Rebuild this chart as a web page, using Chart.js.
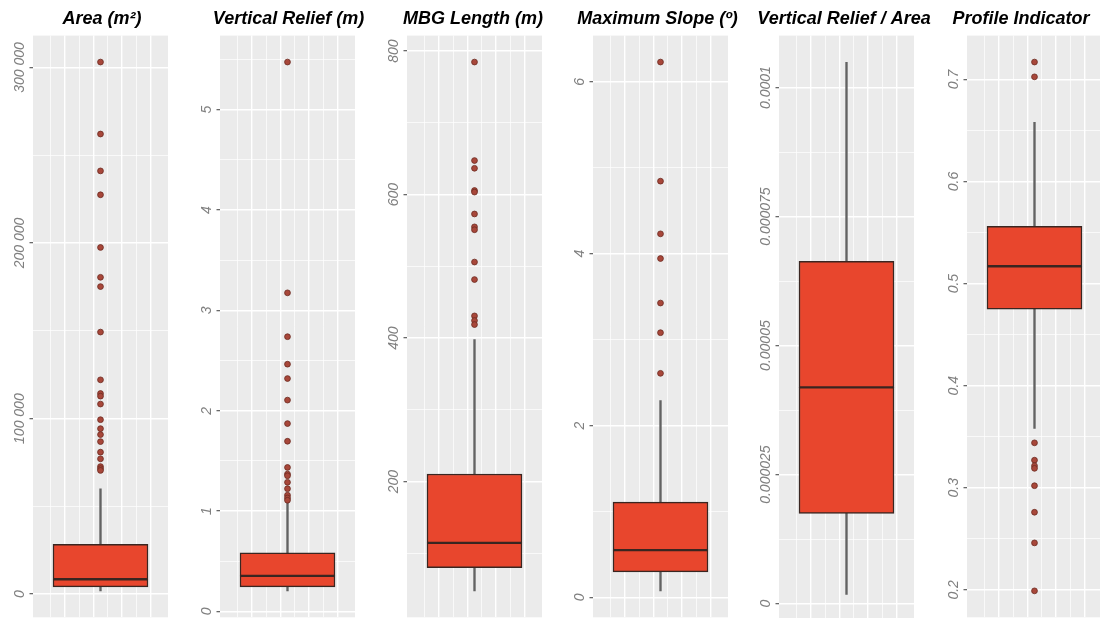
<!DOCTYPE html>
<html>
<head>
<meta charset="utf-8">
<script src="https://cdn.jsdelivr.net/npm/chart.js@4.4.1/dist/chart.umd.min.js"></script>
<style>
  html, body { margin: 0; padding: 0; width: 1100px; height: 618px; overflow: hidden; background: #fff; }
  .panel { position: absolute; top: 0; height: 621px; }
</style>
</head>
<body>
<div id="wrap"></div>
<script>
// panel titles
const titles = ['Area (m²)', 'Vertical Relief (m)', 'MBG Length (m)', 'Maximum Slope (º)', 'Vertical Relief / Area', 'Profile Indicator'];

// box stats: [lower whisker, Q1, median, Q3, upper whisker]
const areaBox = [1900, 4200, 8500, 28400, 60000];
const areaOutliers = [303100, 262100, 241100, 227500, 197500, 180500, 175200, 149300, 122100, 114300, 112800, 108300, 99400, 94300, 90900, 86900, 80900, 77100, 72700, 71500, 70500];
const areaTicks = [0, 100000, 200000, 300000];
const areaTickLabels = ['0', '100 000', '200 000', '300 000'];

const reliefBox = [0.205, 0.245, 0.354, 0.585, 1.08];
const reliefOutliers = [5.475, 3.175, 2.738, 2.464, 2.321, 2.106, 1.872, 1.696, 1.435, 1.369, 1.352, 1.287, 1.223, 1.158, 1.131, 1.108];
const reliefTicks = [0, 1, 2, 3, 4, 5];
const reliefTickLabels = ['0', '1', '2', '3', '4', '5'];

const mbgBox = [47.6, 79.9, 114.5, 210.5, 398];
const mbgOutliers = [784.8, 647.5, 636.7, 605.7, 603.5, 573, 555, 551, 506, 481.6, 430.9, 424.4, 418.8];
const mbgTicks = [200, 400, 600, 800];
const mbgTickLabels = ['200', '400', '600', '800'];

const slopeBox = [0.077, 0.297, 0.551, 1.11, 2.29];
const slopeOutliers = [6.23, 4.844, 4.231, 3.944, 3.426, 3.081, 2.608];
const slopeTicks = [0, 2, 4, 6];
const slopeTickLabels = ['0', '2', '4', '6'];

const ratioBox = [0.0000018, 0.0000175, 0.0000419, 0.0000663, 0.0001049];
const ratioOutliers = [];
const ratioTicks = [0, 0.000025, 0.00005, 0.000075, 0.0001];
const ratioTickLabels = ['0', '0.000025', '0.00005', '0.000075', '0.0001'];

const profileBox = [0.358, 0.475, 0.517, 0.556, 0.658];
const profileOutliers = [0.717, 0.7025, 0.344, 0.327, 0.3215, 0.319, 0.302, 0.276, 0.246, 0.199];
const profileTicks = [0.2, 0.3, 0.4, 0.5, 0.6, 0.7];
const profileTickLabels = ['0.2', '0.3', '0.4', '0.5', '0.6', '0.7'];

const panels = [
    { box: areaBox, outliers: areaOutliers, ticks: areaTicks, labels: areaTickLabels },
    { box: reliefBox, outliers: reliefOutliers, ticks: reliefTicks, labels: reliefTickLabels },
    { box: mbgBox, outliers: mbgOutliers, ticks: mbgTicks, labels: mbgTickLabels },
    { box: slopeBox, outliers: slopeOutliers, ticks: slopeTicks, labels: slopeTickLabels },
    { box: ratioBox, outliers: ratioOutliers, ticks: ratioTicks, labels: ratioTickLabels },
    { box: profileBox, outliers: profileOutliers, ticks: profileTicks, labels: profileTickLabels }
];

// layout / look
const panelLeft = [33, 220, 407, 593, 779, 967];
const panelWidth = 135;
const axisWidth = 33;
// right spacer decides where the centred title lands (last one sits further left)
const rightSpace = [36, 35, 30, 27, 28, 6];
const boxFill = '#E8462D';
const boxEdge = '#3A2621';
const whiskerColor = '#626262';
const dotFill = '#A8473A';
const dotEdge = '#6B2A20';
const xGridValues = [-1.5, -1, -0.5, 0, 0.5, 1, 1.5];

const panelBg = {
    id: 'panelBg',
    beforeDraw(chart) {
        const { ctx, chartArea: a } = chart;
        ctx.save();
        ctx.fillStyle = '#EBEBEB';
        ctx.fillRect(a.left, a.top, a.right - a.left, a.bottom - a.top);
        ctx.restore();
    }
};

// rotated y tick labels, placed with the y scale
function tickText(values, labels) {
    return {
        id: 'tickText',
        afterDraw(chart) {
            const { ctx, chartArea, scales } = chart;
            ctx.save();
            ctx.font = 'italic 14px "Liberation Sans", Arial, sans-serif';
            ctx.fillStyle = '#808080';
            ctx.textAlign = 'center';
            ctx.textBaseline = 'middle';
            values.forEach(function(v, i) {
                if (v < scales.y.min || v > scales.y.max) return;
                ctx.save();
                ctx.translate(chartArea.left - 12.5, scales.y.getPixelForValue(v));
                ctx.rotate(-Math.PI / 2);
                ctx.fillText(labels[i], 0, 0);
                ctx.restore();
            });
            ctx.restore();
        }
    };
}

const wrap = document.getElementById('wrap');

panels.forEach(function(p, i) {
    const div = document.createElement('div');
    div.className = 'panel';
    div.style.left = (panelLeft[i] - axisWidth) + 'px';
    const canvas = document.createElement('canvas');
    canvas.width = axisWidth + panelWidth + rightSpace[i];
    canvas.height = 621;
    div.style.width = canvas.width + 'px';
    div.appendChild(canvas);
    wrap.appendChild(div);

    // ggplot style 5% expansion of the data range
    const all = p.box.concat(p.outliers);
    const lo = Math.min(...all);
    const hi = Math.max(...all);
    const pad = (hi - lo) * 0.05;
    const yMin = lo - pad;
    const yMax = hi + pad;

    const step = p.ticks[1] - p.ticks[0];
    const yGrid = [];
    p.ticks.forEach(function(v) {
        if (v >= yMin && v <= yMax) yGrid.push({ value: v, minor: false });
    });
    for (let k = -3; k < p.ticks.length + 3; k++) {
        const v = p.ticks[0] + (k + 0.5) * step;
        if (v > yMin && v < yMax) yGrid.push({ value: v, minor: true });
    }
    yGrid.sort((a, b) => a.value - b.value);

    const [wLo, q1, med, q3, wHi] = p.box;

    new Chart(canvas, {
        type: 'bar',
        data: {
            datasets: [
                {
                    type: 'scatter',
                    order: 0,
                    data: p.outliers.map(v => ({ x: 0, y: v })),
                    pointRadius: 2.9,
                    pointHoverRadius: 2.9,
                    pointBackgroundColor: dotFill,
                    pointBorderColor: dotEdge,
                    pointBorderWidth: 0.8
                },
                {
                    type: 'bar',
                    order: 1,
                    data: [{ x: 0, y: [q1, med] }, { x: 0, y: [med, q3] }],
                    backgroundColor: boxFill,
                    borderColor: boxEdge,
                    borderWidth: 1.5,
                    borderSkipped: false,
                    barThickness: 95,
                    grouped: false
                },
                {
                    type: 'bar',
                    order: 2,
                    data: [{ x: 0, y: [wLo, q1] }, { x: 0, y: [q3, wHi] }],
                    backgroundColor: whiskerColor,
                    borderWidth: 0,
                    barThickness: 1.7,
                    grouped: false
                }
            ]
        },
        options: {
            responsive: false,
            animation: false,
            devicePixelRatio: 1,
            layout: { padding: 0 },
            events: [],
            plugins: {
                legend: { display: false },
                tooltip: { enabled: false },
                title: {
                    display: true,
                    text: titles[i],
                    color: '#000',
                    font: { family: '"Liberation Sans", Arial, sans-serif', size: 18, weight: 'bold', style: 'italic' },
                    padding: { top: 8, bottom: 6 }
                }
            },
            scales: {
                x: {
                    type: 'linear',
                    min: -2.025,
                    max: 2.025,
                    afterBuildTicks: function(axis) {
                        axis.ticks = xGridValues.map(v => ({ value: v, minor: v % 1 !== 0 }));
                    },
                    ticks: { display: false },
                    grid: {
                        color: '#FFFFFF',
                        lineWidth: ctx => (ctx.tick && ctx.tick.minor ? 0.7 : 1.4),
                        drawTicks: false
                    },
                    border: { display: false }
                },
                y: {
                    type: 'linear',
                    position: 'left',
                    min: yMin,
                    max: yMax,
                    afterBuildTicks: function(axis) {
                        axis.ticks = yGrid.map(t => ({ value: t.value, minor: t.minor }));
                    },
                    afterFit: function(scale) { scale.width = axisWidth; },
                    ticks: { display: false },
                    grid: {
                        color: '#FFFFFF',
                        lineWidth: ctx => (ctx.tick && ctx.tick.minor ? 0.7 : 1.4),
                        tickColor: ctx => (ctx.tick && ctx.tick.minor ? 'rgba(0,0,0,0)' : '#4D4D4D'),
                        tickLength: 3.5,
                        tickWidth: 1.1
                    },
                    border: { display: false }
                },
                y2: {
                    type: 'linear',
                    position: 'right',
                    display: true,
                    ticks: { display: false },
                    grid: { display: false },
                    border: { display: false },
                    afterFit: function(scale) { scale.width = rightSpace[i]; }
                }
            }
        },
        plugins: [panelBg, tickText(p.ticks, p.labels)]
    });
});
</script>
</body>
</html>
